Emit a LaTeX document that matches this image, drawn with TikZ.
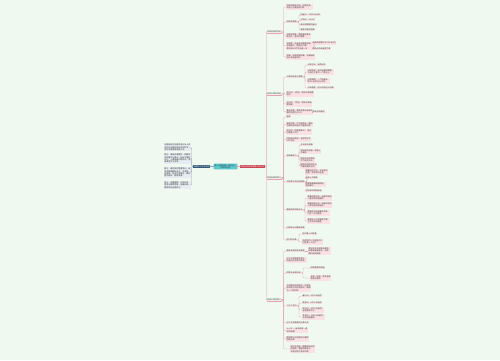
\documentclass[tikz,border=0pt]{standalone}
\usepackage{fontspec}
\setmainfont{Noto Sans CJK SC}
\definecolor{bgcol}{HTML}{F0F9F0}
\definecolor{parafill}{HTML}{E6ECF1}
\definecolor{textdark}{HTML}{3A3A3A}
\definecolor{leftblue}{HTML}{2F5577}
\definecolor{centerteal}{HTML}{5CC8CA}
\definecolor{centertext}{HTML}{1E3C4C}
\definecolor{mainred}{HTML}{C8414E}
\definecolor{leafpink}{HTML}{FBE1E5}
\definecolor{linepink}{HTML}{E6A1AA}
\definecolor{lineblue}{HTML}{8DA3BA}
\begin{document}
\begin{tikzpicture}[x=1pt,y=-1pt,
  every node/.style={font=\fontsize{2}{2.4}\selectfont, inner sep=0.5pt, outer sep=0pt},
  para/.style={anchor=east, fill=parafill, text=textdark, align=left, inner sep=0.6pt},
  lnode/.style={fill=leftblue, text=white, inner sep=0.8pt},
  cnode/.style={fill=centerteal, text=centertext, rounded corners=0.6pt, align=center, inner sep=0.8pt},
  mnode/.style={fill=mainred, text=white, inner sep=0.8pt},
  lone/.style={anchor=west, text=textdark, inner sep=0.6pt},
  leaf/.style={anchor=west, fill=leafpink, text=textdark, align=left},
  conn/.style={draw=linepink, line width=0.35pt, rounded corners=1pt},
  lconn/.style={draw=lineblue, line width=0.35pt, rounded corners=1pt}
]
\fill[bgcol] (0,0) rectangle (500,360);
\useasboundingbox (0,0) rectangle (500,360);

% left side
\node[para] (P1) at (191,147.5) {地理是研究地理环境以及人类\\活动与地理环境关系的科学，\\学好地理需要掌握方法。};
\node[para] (P2) at (191,158.5) {预习：课前阅读教材，明确本\\节的重点与难点，标出不懂的\\地方；上课带着问题听讲，提\\高课堂学习效率。};
\node[para] (P3) at (191,172.5) {复习：课后及时整理笔记，结\\合地图理解知识点，多读图、\\多画图，形成空间概念，做到\\图文结合、融会贯通。};
\node[para] (P4) at (191,185) {练习：适量做题，归纳总结\\题型与解题思路，查漏补缺，\\提高综合运用能力。};
\node[lnode] (L) at (201.5,166.5) {地理学习方法总结};
\node[cnode] (C) at (225.5,166.5) {高一地理必修一知识点：\\地球的运动};
\node[mnode] (M) at (252.5,166.5) {地球运动的地理意义知识点};
\foreach \p in {P1,P2,P3,P4} \draw[lconn] (L.west) -- ++(-1,0) |- (\p.east);
\draw[lconn] (C.west) -- (L.east);
\draw[conn] (C.east) -- (M.west);

% level 1
\node[lone] (A) at (266.5,32) {地球自转的特征};
\node[lone] (B) at (266.5,94) {地球公转的特征};
\node[lone] (Cc) at (266.5,178) {地球自转的意义};
\node[lone] (D) at (266.5,300) {地球公转的意义};
\foreach \n in {A,B,Cc,D} {
  \draw[conn] (M.east) -- ++(1.5,0) |- (\n.west);
  \draw[linepink, line width=0.4pt] (\n.south west) -- (\n.south east);
}

% A branch
\node[leaf] (A1) at (286,7) {地球自转的方向：自西向东，\\北极上空看呈逆时针};
\node[leaf] (A2) at (286,22) {自转的周期};
\node[leaf] (A3) at (286,36) {自转的速度：角速度除南北\\极点外，各地均相等};
\node[leaf] (A4) at (286,46) {线速度：由赤道向两极递减，\\赤道最大，两极点为零，\\南北纬60°约为赤道一半};
\node[leaf] (A5) at (286,57) {地轴：地球自转的轴，北端始终\\指向北极星附近};
\foreach \c in {A1,A2,A3,A4,A5} \draw[conn] (A.east) -- ++(2,0) |- (\c.west);
\node[leaf] (A21) at (300,15) {恒星日：23时56分4秒};
\node[leaf] (A22) at (300,20) {太阳日：24小时};
\node[leaf] (A23) at (300,25) {真正周期是恒星日};
\node[leaf] (A24) at (300,30) {昼夜交替的周期};
\foreach \c in {A21,A22,A23,A24} \draw[conn] (A2.east) -- ++(2,0) |- (\c.west);
\node[leaf] (A41) at (312,43) {赤道线速度约1670千米/时};
\node[leaf] (A42) at (312,49) {两极点的线速度为零};
\foreach \c in {A41,A42} \draw[conn] (A4.east) -- ++(2,0) |- (\c.west);

% B branch
\node[leaf] (B1) at (286,77) {公转的轨道与周期};
\node[leaf] (B2) at (286,94) {近日点：1月初，地球公转速度\\较快};
\node[leaf] (B3) at (286,104) {远日点：7月初，地球公转速\\度较慢};
\node[leaf] (B4) at (286,112) {黄赤交角：黄道平面与赤道平\\面的交角为23°26′};
\foreach \c in {B1,B2,B3,B4} \draw[conn] (B.east) -- ++(2,0) |- (\c.west);
\node[leaf] (B11) at (307,65) {公转方向：自西向东};
\node[leaf] (B12) at (307,72) {公转轨道：近似正圆的椭圆，\\太阳位于其中一个焦点上};
\node[leaf] (B13) at (307,81) {公转周期：一个恒星年，\\即365日6时9分10秒};
\node[leaf] (B14) at (307,88) {公转速度：近日点快远日点慢};
\foreach \c in {B11,B12,B13,B14} \draw[conn] (B1.east) -- ++(2,0) |- (\c.west);
\node[leaf] (B41) at (312,112) {影响太阳直射};
\draw[conn] (B4.east) -- (B41.west);

% C branch
\node[leaf] (C1) at (286,117) {昼夜};
\node[leaf] (C2) at (286,124.5) {昼夜交替：产生晨昏线，晨线\\与昏线将地球分为昼夜半球};
\node[leaf] (C3) at (286,132) {地方时：经度每隔15°，地方\\时相差1小时};
\node[leaf] (C4) at (286,139.5) {时区和日界线：全球划分为\\24个时区};
\node[leaf] (C5) at (286,156) {地转偏向力};
\node[leaf] (C6) at (286,182) {沿地表水平运动物体};
\node[leaf] (C7) at (286,210) {晨昏线的判断方法};
\node[leaf] (C8) at (286,228) {日界线与日期的变更};
\node[leaf] (C9) at (286,240) {区时的计算};
\foreach \c in {C1,C2,C3,C4,C5,C6,C7,C8,C9} \draw[conn] (Cc.east) -- ++(2,0) |- (\c.west);
\node[leaf] (C51) at (300,145) {北半球向右偏};
\node[leaf] (C52) at (300,151.5) {南半球向左偏，赤道上\\不偏转};
\node[leaf] (C53) at (300,160) {影响河流冲刷和\\大气运动方向};
\node[leaf] (C54) at (300,166) {影响洋流的流向与\\气旋的旋转方向};
\foreach \c in {C51,C52,C53,C54} \draw[conn] (C5.east) -- ++(2,0) |- (\c.west);
\node[leaf] (C61) at (305,172) {顺着运动方向，北半球向\\右偏，南半球向左偏};
\node[leaf] (C62) at (305,178) {赤道上不偏转};
\node[leaf] (C63) at (305,184.5) {纬度越高偏转越明显，\\两极最大};
\node[leaf] (C64) at (305,191) {对河岸冲刷的影响};
\foreach \c in {C61,C62,C63,C64} \draw[conn] (C6.east) -- ++(2,0) |- (\c.west);
\node[leaf] (C71) at (307,198) {顺着自转方向，由夜半球进\\入昼半球的是晨线};
\node[leaf] (C72) at (307,205) {顺着自转方向，由昼半球进\\入夜半球的是昏线};
\node[leaf] (C73) at (307,213) {晨昏线与经线圈的关系：\\只在二分日重合};
\node[leaf] (C74) at (307,221) {晨昏线上太阳高度为零，\\与太阳光线垂直};
\foreach \c in {C71,C72,C73,C74} \draw[conn] (C7.east) -- ++(2,0) |- (\c.west);
\node[leaf] (C91) at (302,234) {区时差＝时区差};
\node[leaf] (C92) at (302,242) {所求区时＝已知区时±\\时区差×1小时};
\foreach \c in {C91,C92} \draw[conn] (C9.east) -- ++(2,0) |- (\c.west);

% D branch
\node[leaf] (D1) at (286,251) {昼夜长短的变化规律};
\node[leaf] (D2) at (286,260) {正午太阳高度的变化：\\由直射点向南北递减};
\node[leaf] (D3) at (286,273) {四季与五带形成};
\node[leaf] (D4) at (286,288) {太阳直射点的移动：在南北\\回归线之间往返移动，周期\\为一个回归年};
\node[leaf] (D5) at (286,306) {二分二至日};
\node[leaf] (D6) at (286,323) {正午太阳高度的计算公式};
\node[leaf] (D7) at (286,330.5) {H＝90°－|当地纬度－直\\射点纬度|};
\node[leaf] (D8) at (286,339) {楼间距与太阳能热水器的\\倾角计算};
\node[leaf] (D9) at (290,349) {知识点总结：理解地球运动\\的规律，掌握地理意义，\\学会运用于实际问题};
\foreach \c in {D1,D2,D3,D4,D5,D6,D7,D8,D9} \draw[conn] (D.east) -- ++(2,0) |- (\c.west);
\node[leaf] (D11) at (308,251) {夏半年北半球昼长夜短，\\纬度越高昼越长，北极\\圈内出现极昼};
\draw[conn] (D1.east) -- (D11.west);
\node[leaf] (D31) at (310,268) {四季更替的原因};
\node[leaf] (D32) at (310,278) {五带：热带、南北温带\\和南北寒带};
\foreach \c in {D31,D32} \draw[conn] (D3.east) -- ++(2,0) |- (\c.west);
\node[leaf] (D51) at (302,296) {春分日：3月21日前后};
\node[leaf] (D52) at (302,303) {夏至日：6月22日前后};
\node[leaf] (D53) at (302,310) {秋分日：9月23日前后，\\全球昼夜平分};
\node[leaf] (D54) at (302,317) {冬至日：12月22日前后，\\北半球昼最短};
\foreach \c in {D51,D52,D53,D54} \draw[conn] (D5.east) -- ++(2,0) |- (\c.west);
\end{tikzpicture}
\end{document}
